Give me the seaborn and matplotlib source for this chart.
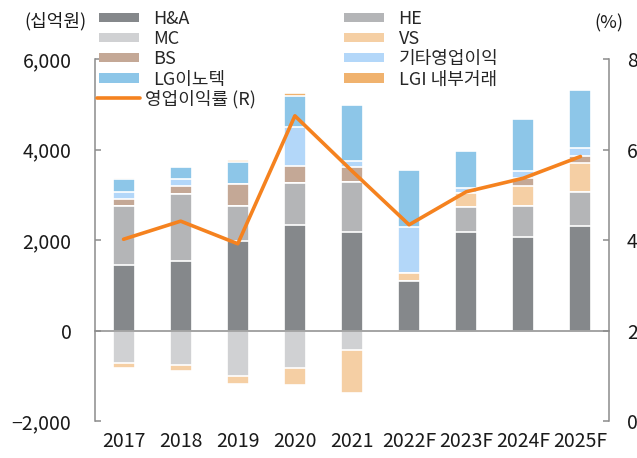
import numpy as np
import matplotlib
matplotlib.use('Agg')
import matplotlib.pyplot as plt
from matplotlib.patches import Patch
from matplotlib.lines import Line2D
from matplotlib.ticker import FuncFormatter
import seaborn as sns

years = ['2017', '2018', '2019', '2020', '2021', '2022F', '2023F', '2024F', '2025F']

# 부문별 영업이익 (십억원)
ha = [1450, 1535, 1975, 2345, 2190, 1105, 2180, 2080, 2315]
he = [1315, 1495, 790, 930, 1090, 0, 560, 685, 745]
mc = [-710, -760, -1000, -825, -430, 0, 0, 0, 0]
vs = [-120, -125, -180, -385, -940, 160, 310, 435, 655]
bs = [155, 170, 485, 355, 330, 0, 0, 185, 150]
etc = [135, 155, 0, 870, 135, 1020, 110, 150, 170]
inno = [290, 265, 485, 685, 1250, 1275, 820, 1155, 1280]
lgi = [25, 0, 45, 65, 0, 0, 0, 0, 0]

# 영업이익률 (%)
margin = [4.02, 4.42, 3.92, 6.75, 5.53, 4.34, 5.07, 5.37, 5.85]

names = ['H&A', 'HE', 'MC', 'VS', 'BS', '기타영업이익', 'LG이노텍', 'LGI 내부거래']
colors = ['#85888b', '#b4b5b7', '#d0d1d3', '#f5cfa4', '#c4a896', '#b3d7f9', '#8dc6e8', '#f0b26e']
line_color = '#f5821f'
gray = '#8c8c8c'

sns.set_style('white')
plt.rcParams['font.family'] = ['Noto Sans CJK KR', 'DejaVu Sans']
plt.rcParams['axes.unicode_minus'] = True

fig = plt.figure(figsize=(6.37, 4.58), dpi=100)
ax = fig.add_axes([95 / 637, 1 - 421 / 458, (609 - 95) / 637, (421 - 59.3) / 458])

# stacked bars: positive and negative parts stacked separately,
# drawn from the outermost cumulative value inward
layers = np.array([ha, he, mc, vs, bs, etc, inno, lgi], dtype=float)
pos_cum = np.cumsum(np.clip(layers, 0, None), axis=0)
neg_cum = np.cumsum(np.clip(layers, None, 0), axis=0)

for k in range(len(names) - 1, -1, -1):
    for cum in (pos_cum[k], neg_cum[k]):
        vals = np.where(cum == 0, np.nan, cum)
        sns.barplot(x=years, y=vals, color=colors[k], saturation=1, width=0.385,
                    edgecolor='white', linewidth=1.2, errorbar=None, ax=ax)

ax.set_ylim(-2000, 6000)
ax.set_yticks([-2000, 0, 2000, 4000, 6000])
ax.yaxis.set_major_formatter(FuncFormatter(lambda v, p: f'{v:,.0f}'.replace('-', '\u2212')))
ax.set_xlim(-0.5, 8.5)
ax.set_xticks(np.arange(0.5, 8, 1))
ax.set_xticklabels([])
ax.spines['bottom'].set_position(('data', 0))
for s in ['top', 'right']:
    ax.spines[s].set_visible(False)
for s in ['left', 'bottom']:
    ax.spines[s].set_color(gray)
    ax.spines[s].set_linewidth(1.1)
ax.tick_params(axis='x', direction='in', length=4, width=1.1, color=gray)
ax.tick_params(axis='y', direction='in', length=4, width=1.1, color=gray,
               labelsize=14, pad=17, labelcolor='#1a1a1a')
for i, yr in enumerate(years):
    ax.text(i, -0.057, yr, transform=ax.get_xaxis_transform(), ha='center', va='center',
            fontsize=14, color='#1a1a1a')
ax.set_xlabel('')
ax.set_ylabel('')

ax2 = ax.twinx()
sns.lineplot(x=np.arange(len(years)), y=margin, ax=ax2, color=line_color, linewidth=2.6)
ax2.set_ylim(0, 8)
ax2.set_yticks([0, 2, 4, 6, 8])
ax2.set_xlim(-0.5, 8.5)
for s in ['top', 'bottom', 'left']:
    ax2.spines[s].set_visible(False)
ax2.spines['right'].set_color(gray)
ax2.spines['right'].set_linewidth(1.1)
ax2.tick_params(axis='y', direction='in', length=4, width=1.1, color=gray,
                labelsize=14, pad=13, labelcolor='#1a1a1a')
ax2.set_ylabel('')

fig.text(24 / 637, 1 - 21.7 / 458, '(십억원)', fontsize=13, va='center', ha='left', color='#1a1a1a')
fig.text(623 / 637, 1 - 23 / 458, '(%)', fontsize=13, va='center', ha='right', color='#1a1a1a')

order = [0, 2, 4, 6, 1, 3, 5, 7]
handles = [Patch(facecolor=colors[i], edgecolor='none') for i in order]
labels = [names[i] for i in order]
fig.legend(handles, labels, ncol=2, loc='upper left', bbox_to_anchor=(99 / 637, 1 - 10 / 458),
           frameon=False, borderpad=0, borderaxespad=0, fontsize=13,
           handlelength=2.2, handleheight=0.4, handletextpad=0.8,
           columnspacing=6.6, labelspacing=0.12)
fig.legend([Line2D([], [], color=line_color, linewidth=2.6)], ['영업이익률 (R)'],
           loc='upper left', bbox_to_anchor=(97 / 637, 1 - 90 / 458),
           frameon=False, borderpad=0, borderaxespad=0, fontsize=13,
           handlelength=2.4, handletextpad=0.25)

fig.savefig('out.png', dpi=100)
